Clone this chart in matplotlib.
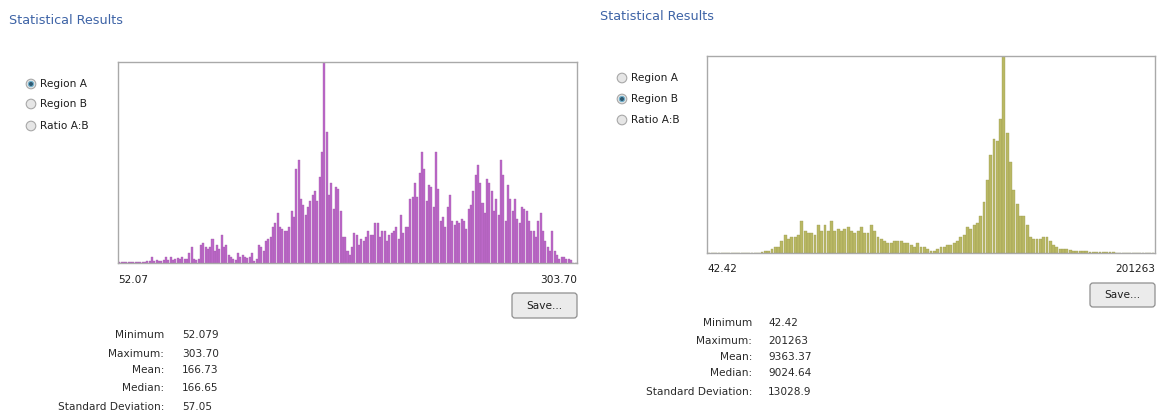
import matplotlib
matplotlib.use("Agg")
import matplotlib.pyplot as plt
from matplotlib.patches import Circle, FancyBboxPatch
import numpy as np

# histogram bin counts, as % of the tallest bin
counts_a = [0.3, 0.3, 0.4, 0.3, 0.4, 0.4, 0.5, 0.4, 0.5, 0.6, 0.5, 0.6, 0.8, 1.0,
            3, 1, 1.5, 1, 1, 1.5, 3, 1.5, 3, 1.5, 2, 2.5, 2, 3, 2, 2, 5, 8, 2, 1.5,
            2, 9, 10, 8, 7, 8, 12, 6, 9, 7, 14, 8, 9, 4, 3, 2, 1.5, 5, 3, 4, 3, 2.5,
            3, 5, 1, 2, 9, 8, 6, 11, 12, 13, 18, 20, 25, 18, 17, 16, 16, 18, 26, 23,
            47, 51, 32, 29, 24, 28, 31, 34, 36, 31, 43, 55, 100, 65, 34, 40, 27, 38,
            37, 26, 13, 13, 6, 4, 8, 15, 14, 9, 12, 11, 13, 16, 14, 14, 20, 20, 13,
            16, 16, 11, 14, 15, 16, 18, 12, 24, 15, 18, 18, 32, 33, 40, 33, 45, 55,
            47, 31, 39, 38, 28, 55, 37, 21, 23, 18, 28, 34, 21, 19, 21, 20, 22, 21,
            17, 27, 29, 36, 44, 49, 40, 30, 25, 42, 40, 36, 26, 32, 24, 51, 44, 21,
            39, 32, 26, 32, 22, 20, 28, 27, 26, 21, 16, 16, 13, 21, 25, 16, 11, 8,
            6, 16, 6, 4, 2, 3, 3, 2, 2, 1.5, 0, 0]

counts_b = [0, 0, 0, 0, 0, 0, 0, 0, 0, 0, 0, 0, 0, 0, 0, 0, 0.5, 1,
            1, 2, 3, 3, 6, 9, 7, 8, 8, 9, 16, 11, 10, 10, 9, 14, 11, 14, 11, 16,
            11, 12, 11, 12, 13, 11, 10, 11, 13, 10, 10, 14, 11, 8, 7, 6, 5, 5, 6,
            6, 6, 5, 5, 4, 3, 5, 3, 3, 2, 1, 1, 2, 3, 3, 4, 4, 5, 6, 8, 9, 13, 12,
            14, 15, 19, 26, 37, 50, 58, 57, 68, 100, 61, 46, 32, 25, 19, 19, 14, 8,
            7, 7, 7, 8, 8, 6, 4, 3, 2, 2, 2, 1.5, 1, 1, 1, 1, 0.8, 0.7, 0.7, 0.6,
            0.5, 0.4, 0.3, 0.3, 0.3, 0.2, 0, 0, 0, 0, 0, 0, 0, 0, 0, 0, 0]

radio_labels = ["Region A", "Region B", "Ratio A:B"]
stat_labels = ["Minimum", "Maximum:", "Mean:", "Median:", "Standard Deviation:"]
stats_a = ["52.079", "303.70", "166.73", "166.65", "57.05"]
stats_b = ["42.42", "201263", "9363.37", "9024.64", "13028.9"]
range_a = ["52.07", "303.70"]
range_b = ["42.42", "201263"]

W, H = 1163, 415
fig = plt.figure(figsize=(W / 100, H / 100), dpi=100)
fig.patch.set_facecolor("white")

ui = "DejaVu Sans"
txt = "#1e1e1e"
title_c = "#3d63a6"

bg = fig.add_axes([0, 0, 1, 1])
bg.set_xlim(0, W)
bg.set_ylim(H, 0)
bg.axis("off")


def px_axes(x0, y0, x1, y1):
    return fig.add_axes([x0 / W, 1 - y1 / H, (x1 - x0) / W, (y1 - y0) / H])


def hist_panel(box, counts, color, edge, lo_hi, lbl_y):
    ax = px_axes(*box)
    idx = np.arange(len(counts))
    ax.bar(idx, counts, width=0.86, color=color, edgecolor=edge, linewidth=0.25)
    ax.set_xlim(-0.6, len(counts) - 0.4)
    ax.set_ylim(0, 100)
    ax.set_xticks([])
    ax.set_yticks([])
    for s in ax.spines.values():
        s.set_color("#a9a9a9")
        s.set_linewidth(1)
    bg.text(box[0], lbl_y, lo_hi[0], fontsize=7.6, family=ui, color=txt, va="center", ha="left")
    bg.text(box[2], lbl_y, lo_hi[1], fontsize=7.6, family=ui, color=txt, va="center", ha="right")
    return ax


def radios(x, ys, sel):
    for i, (y, lab) in enumerate(zip(ys, radio_labels)):
        bg.add_patch(Circle((x, y), 4.8, facecolor="#e6e6e6", edgecolor="#a8a8a8", lw=0.8))
        if i == sel:
            bg.add_patch(Circle((x, y), 2.6, facecolor="#2f5870", edgecolor="#6fb0cc", lw=0.8))
        bg.text(x + 9, y, lab, fontsize=7.6, family=ui, color=txt, va="center", ha="left")


def save_button(x0, y0, x1, y1):
    bg.add_patch(FancyBboxPatch((x0, y0), x1 - x0, y1 - y0,
                                boxstyle="round,pad=0,rounding_size=3",
                                facecolor="#ebebeb", edgecolor="#8f8f8f", lw=0.9))
    bg.text((x0 + x1) / 2, (y0 + y1) / 2, "Save...", fontsize=7.6, family=ui,
            color=txt, va="center", ha="center")


def stats(xr, xv, ys, vals):
    for y, lab, v in zip(ys, stat_labels, vals):
        bg.text(xr, y, lab, fontsize=7.6, family=ui, color="#2a2a2a", va="center", ha="right")
        bg.text(xv, y, v, fontsize=7.6, family=ui, color="#2a2a2a", va="center", ha="left")


# left panel
bg.text(9, 20, "Statistical Results", fontsize=9.2, family=ui, color=title_c, va="center")
radios(31, [84, 104, 126], 0)
hist_panel((118, 62, 577, 263), counts_a, "#bd68c9", "#a05aa8", range_a, 280)
save_button(512, 293, 577, 318)
stats(164, 182, [335, 354, 370, 388, 407], stats_a)

# right panel
bg.text(600, 17, "Statistical Results", fontsize=9.2, family=ui, color=title_c, va="center")
radios(622, [78, 99, 120], 1)
hist_panel((707, 56, 1155, 253), counts_b, "#b9b864", "#9c9b50", range_b, 269)
save_button(1090, 283, 1155, 307)
stats(752, 768, [323, 341, 357, 373, 392], stats_b)

fig.savefig("out.png", dpi=100, facecolor="white")
